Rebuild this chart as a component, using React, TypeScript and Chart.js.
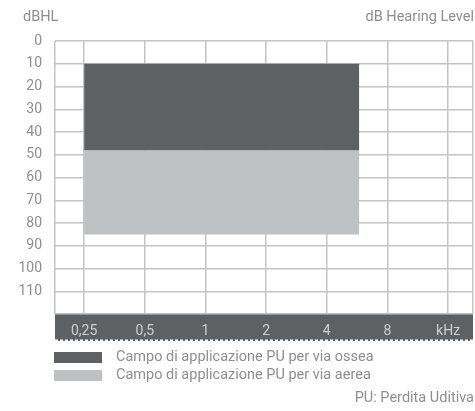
import React, { useEffect, useRef } from 'react';
import { Chart, registerables } from 'chart.js';

Chart.register(...registerables);

// ---- data ----
const xTickLabels = ['0,25', '0,5', '1', '2', '4', '8', 'kHz'];
const yTickValues = [0, 10, 20, 30, 40, 50, 60, 70, 80, 90, 100, 110, 120];
const bandLabels = [
  'Campo di applicazione PU per via ossea',
  'Campo di applicazione PU per via aerea',
];
const bandTop = [10, 48];
const bandBottom = [48, 85];
const bandStartKHz = [0.25, 0.25];
const bandEndKHz = [5.8, 5.8];
const yTitle = 'dBHL';
const rightTitle = 'dB Hearing Level';
const footNote = 'PU: Perdita Uditiva';

// ---- style ----
const bandColors = ['#5f6062', '#bfc0c2'];
const gridColor = '#c2c4c6';
const textColor = '#8e8e8e';
const axisBarColor = '#5f6062';
const axisTextColor = '#cfcfcf';
const FONT = 'Roboto';
const FS = 14;

const toX = (khz: number) => Math.log2(khz / 0.25);
const X_MIN = -0.48;
const X_MAX = 6.41;

const extrasPlugin = {
  id: 'extras',
  afterDraw(chart: any) {
    const ctx = chart.ctx as CanvasRenderingContext2D;
    const area = chart.chartArea;
    const xs = chart.scales.x;
    ctx.save();
    ctx.strokeStyle = '#ffffff';
    ctx.lineWidth = 1.5;
    ctx.setLineDash([3, 2]);
    ctx.beginPath();
    ctx.moveTo(xs.left, xs.bottom - 0.75);
    ctx.lineTo(xs.right, xs.bottom - 0.75);
    ctx.stroke();
    ctx.setLineDash([]);

    ctx.font = `14.5px ${FONT}`;
    ctx.fillStyle = textColor;
    ctx.textBaseline = 'middle';
    ctx.textAlign = 'left';
    ctx.fillText(yTitle, 23, 17);
    ctx.textAlign = 'right';
    ctx.fillText(rightTitle, 474, 17);

    const legY = [352, 370];
    bandLabels.forEach((lab, i) => {
      ctx.fillStyle = bandColors[i];
      ctx.fillRect(area.left - 1, legY[i], 48, 11);
      ctx.fillStyle = textColor;
      ctx.textAlign = 'left';
      ctx.fillText(lab, 116, legY[i] + 5.5);
    });
    ctx.textAlign = 'right';
    ctx.fillText(footNote, 474, 398);
    ctx.restore();
  },
};

export default function App() {
  const ref = useRef<HTMLCanvasElement | null>(null);

  useEffect(() => {
    if (!ref.current) return;
    const datasets = bandLabels.map((label, i) => ({
      label,
      data: [
        { x: toX(bandStartKHz[i]), y: bandTop[i] },
        { x: toX(bandEndKHz[i]), y: bandTop[i] },
      ],
      fill: { value: bandBottom[i] },
      backgroundColor: bandColors[i],
      borderColor: bandColors[i],
      borderWidth: 0,
      pointRadius: 0,
      tension: 0,
    }));

    const chart = new Chart(ref.current, {
      type: 'line',
      data: { datasets },
      options: {
        animation: false,
        responsive: false,
        devicePixelRatio: 1,
        layout: { padding: { top: 41, bottom: 70, right: 2, left: 0 } },
        plugins: { legend: { display: false }, tooltip: { enabled: false } },
        scales: {
          x: {
            type: 'linear',
            min: X_MIN,
            max: X_MAX,
            backgroundColor: axisBarColor,
            afterBuildTicks: (scale: any) => {
              scale.ticks = [
                { value: X_MIN, label: '' },
                ...xTickLabels.map((l, i) => ({ value: i, label: l })),
                { value: X_MAX, label: '' },
              ];
            },
            afterFit: (scale: any) => {
              scale.height = 27;
              scale.paddingLeft = 0;
              scale.paddingRight = 0;
            },
            ticks: {
              autoSkip: false,
              maxRotation: 0,
              padding: 9,
              color: axisTextColor,
              font: { family: FONT, size: FS },
              callback: function (this: any, value: any, index: number) {
                const t = this.ticks[index];
                return t && t.label !== undefined ? t.label : '';
              },
            },
            grid: { color: gridColor, lineWidth: 1.5, drawTicks: false },
            border: { display: false },
          },
          y: {
            type: 'linear',
            reverse: true,
            min: 0,
            max: 120,
            afterBuildTicks: (scale: any) => {
              scale.ticks = yTickValues.map((v) => ({ value: v }));
            },
            afterFit: (scale: any) => {
              scale.width = 55;
            },
            ticks: {
              padding: 13,
              color: textColor,
              font: { family: FONT, size: FS },
              callback: (v: any) => (v === 120 ? '' : String(v)),
            },
            grid: { color: gridColor, lineWidth: 1.5, drawTicks: false },
            border: { display: false },
          },
        },
      },
      plugins: [extrasPlugin],
    } as any);
    return () => chart.destroy();
  }, []);

  return (
    <div style={{ position: 'absolute', left: 0, top: 0, width: 475, height: 411, background: '#fff' }}>
      <canvas ref={ref} width={475} height={411} />
    </div>
  );
}
